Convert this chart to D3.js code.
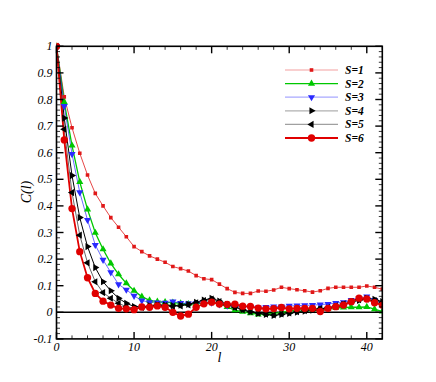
<!DOCTYPE html>
<html>
  <head>
    <meta charset="utf-8">
    <script src="https://cdn.jsdelivr.net/npm/d3@7"></script>
    <style>
      body { margin: 0; background: #fff; }
      text { font-family: "Liberation Serif", "DejaVu Serif", serif; font-style: italic; }
    </style>
  </head>
  <body>
    <svg id="corr" width="436" height="382"></svg>
    <script>
    // lag l = 0..42
    var lags = d3.range(0, 43);
    var s1 = [1, 0.81, 0.694, 0.598, 0.516, 0.447, 0.40, 0.356, 0.32, 0.284, 0.247, 0.228, 0.212, 0.2, 0.188, 0.172, 0.164, 0.155, 0.138, 0.126, 0.123, 0.106, 0.089, 0.075, 0.071, 0.071, 0.080, 0.079, 0.084, 0.094, 0.089, 0.085, 0.081, 0.076, 0.081, 0.09, 0.094, 0.094, 0.094, 0.094, 0.099, 0.094, 0.087];
    var s2 = [1, 0.79, 0.627, 0.49, 0.387, 0.299, 0.237, 0.184, 0.143, 0.109, 0.081, 0.059, 0.045, 0.04, 0.038, 0.036, 0.034, 0.031, 0.032, 0.035, 0.04, 0.032, 0.02, 0.008, 0.002, -0.003, -0.008, -0.006, -0.004, 0.0, 0.004, 0.009, 0.01, 0.011, 0.013, 0.015, 0.017, 0.018, 0.019, 0.019, 0.02, 0.012, 0.003];
    var s3 = [1, 0.775, 0.595, 0.451, 0.347, 0.253, 0.197, 0.15, 0.105, 0.085, 0.062, 0.044, 0.038, 0.037, 0.036, 0.04, 0.035, 0.033, 0.034, 0.035, 0.036, 0.03, 0.025, 0.022, 0.02, 0.02, 0.018, 0.02, 0.022, 0.022, 0.024, 0.025, 0.026, 0.027, 0.029, 0.031, 0.035, 0.038, 0.046, 0.052, 0.059, 0.046, 0.033];
    var s4 = [1, 0.73, 0.514, 0.356, 0.247, 0.168, 0.115, 0.081, 0.053, 0.034, 0.022, 0.02, 0.025, 0.028, 0.027, 0.025, 0.027, 0.03, 0.038, 0.046, 0.053, 0.042, 0.03, 0.02, 0.01, 0.002, -0.004, -0.008, -0.012, -0.008, -0.004, 0.0, 0.004, 0.008, 0.012, 0.016, 0.022, 0.03, 0.038, 0.045, 0.053, 0.049, 0.04];
    var s5 = [1, 0.688, 0.45, 0.29, 0.186, 0.115, 0.074, 0.053, 0.034, 0.021, 0.015, 0.018, 0.022, 0.027, 0.025, 0.022, 0.024, 0.028, 0.036, 0.044, 0.05, 0.04, 0.028, 0.018, 0.009, 0.002, -0.003, -0.007, -0.01, -0.006, -0.002, 0.002, 0.006, 0.01, 0.014, 0.018, 0.024, 0.032, 0.04, 0.047, 0.05, 0.044, 0.036];
    var s6 = [1, 0.648, 0.39, 0.228, 0.13, 0.071, 0.042, 0.027, 0.015, 0.013, 0.01, 0.02, 0.019, 0.024, 0.019, 0.0, -0.014, -0.007, 0.019, 0.032, 0.038, 0.031, 0.03, 0.031, 0.023, 0.022, 0.016, 0.013, 0.014, 0.018, 0.013, 0.015, 0.015, 0.015, 0.003, 0.015, 0.021, 0.027, 0.04, 0.053, 0.05, 0.036, 0.027];
    var seriesNames = ["S=1", "S=2", "S=3", "S=4", "S=5", "S=6"];
    var xTicks = [0, 10, 20, 30, 40];
    var yTicks = [-0.1, 0, 0.1, 0.2, 0.3, 0.4, 0.5, 0.6, 0.7, 0.8, 0.9, 1];

    var svg = d3.select("#corr")
      , pLeft = 56.5, pRight = 382.3, pTop = 46.3, pBottom = 338.9;

    var x = d3.scaleLinear().domain([0, 42]).range([pLeft, pRight]);
    var y = d3.scaleLinear().domain([-0.1, 1]).range([pBottom, pTop]);

    // marker shape per series
    function sym(type, size){ return d3.symbol().type(type).size(size); }
    var styles = [
      {data: s1, color: "#e01818", width: 0.8, sym: sym(d3.symbolSquare, 13), rot: 0, legColor: "#f4a0a0"},
      {data: s2, color: "#00c800", width: 1.3, sym: sym(d3.symbolTriangle, 22), rot: 0, legColor: "#00c800"},
      {data: s3, color: "#2a2aff", width: 0.7, sym: sym(d3.symbolTriangle, 22), rot: 180, legColor: "#a8a8ff"},
      {data: s4, color: "#000", width: 1.0, sym: sym(d3.symbolTriangle, 22), rot: 90, legColor: "#b0b0b0"},
      {data: s5, color: "#000", width: 0.6, sym: sym(d3.symbolTriangle, 22), rot: -90, legColor: "#a0a0a0"},
      {data: s6, color: "#e00000", width: 1.8, sym: sym(d3.symbolCircle, 42), rot: 0, legColor: "#e00000"}
    ];

    svg.append("clipPath").attr("id", "plotclip").append("rect")
      .attr("x", pLeft).attr("y", pTop - 6).attr("width", pRight - pLeft).attr("height", pBottom - pTop + 6);

    // zero line
    svg.append("line")
      .attr("x1", pLeft).attr("x2", pRight).attr("y1", y(0)).attr("y2", y(0))
      .attr("stroke", "#000").attr("stroke-width", 1.6);

    var line = d3.line().x(function(d, i){ return x(lags[i]); }).y(function(d){ return y(d); });

    var plot = svg.append("g").attr("clip-path", "url(#plotclip)");
    styles.forEach(function(s){
      plot.append("path")
        .attr("d", line(s.data))
        .attr("fill", "none")
        .attr("stroke", s.color)
        .attr("stroke-width", s.width);
    });
    styles.forEach(function(s){
      plot.selectAll(null).data(s.data).enter().append("path")
        .attr("d", s.sym())
        .attr("transform", function(d, i){ return "translate(" + x(lags[i]) + "," + y(d) + ") rotate(" + s.rot + ")"; })
        .attr("fill", s.color);
    });

    // frame with inward ticks
    var axes = svg.append("g").attr("stroke", "#000");
    axes.append("rect")
      .attr("x", pLeft).attr("y", pTop).attr("width", pRight - pLeft).attr("height", pBottom - pTop)
      .attr("fill", "none").attr("stroke-width", 1.6);

    var xMinor = d3.range(0, 43, 2), yMinor = d3.range(-10, 101, 2).map(function(v){ return v / 100; });
    xMinor.forEach(function(v){
      var major = v % 10 === 0, len = major ? 7 : 3.5;
      axes.append("line").attr("x1", x(v)).attr("x2", x(v)).attr("y1", pBottom).attr("y2", pBottom - len).attr("stroke-width", major ? 1.4 : 0.8);
      axes.append("line").attr("x1", x(v)).attr("x2", x(v)).attr("y1", pTop).attr("y2", pTop + len).attr("stroke-width", major ? 1.4 : 0.8);
    });
    yMinor.forEach(function(v){
      var major = Math.round(v * 100) % 10 === 0, len = major ? 7 : 3.5;
      axes.append("line").attr("x1", pLeft).attr("x2", pLeft + len).attr("y1", y(v)).attr("y2", y(v)).attr("stroke-width", major ? 1.4 : 0.8);
      axes.append("line").attr("x1", pRight).attr("x2", pRight - len).attr("y1", y(v)).attr("y2", y(v)).attr("stroke-width", major ? 1.4 : 0.8);
    });

    // tick labels
    svg.selectAll(".ylab").data(yTicks).enter().append("text")
      .attr("x", pLeft - 4).attr("y", function(d){ return y(d) + 4; })
      .attr("text-anchor", "end").attr("font-size", 12)
      .text(function(d){ return String(d); });
    svg.selectAll(".xlab").data(xTicks).enter().append("text")
      .attr("x", function(d){ return x(d); }).attr("y", pBottom + 12)
      .attr("text-anchor", "middle").attr("font-size", 12)
      .text(function(d){ return d; });

    svg.append("text").attr("x", x(21)).attr("y", pBottom + 23)
      .attr("text-anchor", "middle").attr("font-size", 14).text("l");
    svg.append("text").attr("transform", "translate(31,192) rotate(-90)")
      .attr("text-anchor", "middle").attr("font-size", 14).text("C(l)");

    // legend
    var legend = svg.append("g");
    styles.forEach(function(s, i){
      var ly = 70 + i * 13.6;
      legend.append("line").attr("x1", 285).attr("x2", 338).attr("y1", ly).attr("y2", ly)
        .attr("stroke", s.legColor).attr("stroke-width", Math.max(s.width, 1.2));
      legend.append("path").attr("d", s.sym())
        .attr("transform", "translate(311.5," + ly + ") rotate(" + s.rot + ")")
        .attr("fill", s.color);
      legend.append("text").attr("x", 345).attr("y", ly + 4)
        .attr("font-size", 11.5).attr("font-weight", "bold").text(seriesNames[i]);
    });
    </script>
  </body>
</html>
